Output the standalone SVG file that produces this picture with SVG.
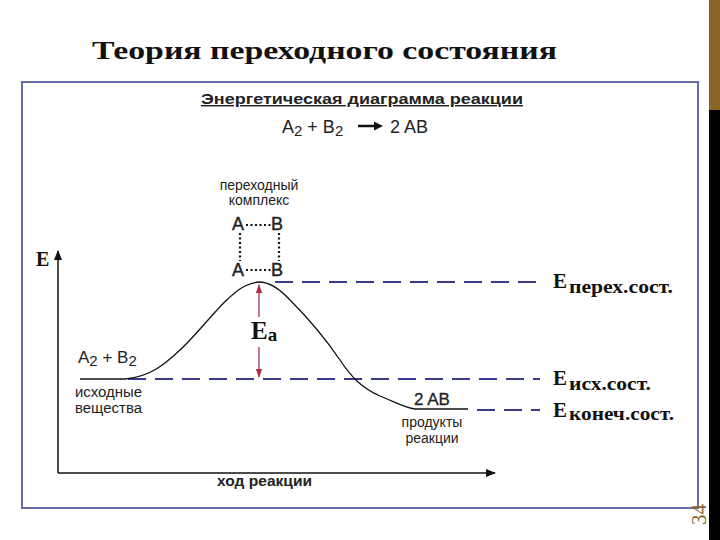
<svg xmlns="http://www.w3.org/2000/svg" width="720" height="540" viewBox="0 0 720 540">
<defs>
<style>
.sans{font-family:"Liberation Sans",Arial,sans-serif;fill:#222}
.serif{font-family:"Liberation Serif","Times New Roman",serif;fill:#111}
.dash{stroke:#3a3a8c;stroke-width:2;stroke-dasharray:18 9;fill:none}
.ax{stroke:#111;stroke-width:1.5;fill:none}
</style>
<marker id="ah" viewBox="0 0 10 10" refX="9" refY="5" markerWidth="7" markerHeight="7" orient="auto-start-reverse"><path d="M0 1 L10 5 L0 9 Z" fill="#111"/></marker>
<marker id="rh" viewBox="0 0 10 10" refX="9" refY="5" markerWidth="7" markerHeight="7" orient="auto-start-reverse"><path d="M0 1.5 L10 5 L0 8.5 Z" fill="#b0304a"/></marker>
</defs>
<rect width="720" height="540" fill="#fff"/>
<rect x="709" y="0" width="11" height="110" fill="#8b6326"/>
<rect x="709" y="110" width="11" height="430" fill="#000"/>
<text class="serif" x="92" y="59" font-size="26" font-weight="bold" textLength="465" lengthAdjust="spacingAndGlyphs">Теория переходного состояния</text>
<rect x="22" y="82" width="676" height="426" fill="none" stroke="#6a6aad" stroke-width="2"/>
<text transform="translate(706 525) rotate(-90)" font-family="Liberation Serif, serif" font-size="21" fill="#8b6326">34</text>

<g id="header">
<text class="sans" x="362" y="104" font-size="14.5" font-weight="bold" text-anchor="middle" textLength="322" lengthAdjust="spacingAndGlyphs" text-decoration="underline">Энергетическая диаграмма реакции</text>
<text class="sans" x="282" y="133" font-size="18">A<tspan font-size="15" dy="3">2</tspan><tspan dy="-3"> + B</tspan><tspan font-size="15" dy="3">2</tspan></text>
<path d="M358 126 L376 126" stroke="#111" stroke-width="2.5"/>
<path d="M374 121.5 L383 126 L374 130.5 Z" fill="#111"/>
<text class="sans" x="390" y="133" font-size="18">2 AB</text>
</g>

<g id="axes">
<path class="ax" d="M58 473 L58 251" marker-end="url(#ah)"/>
<path class="ax" d="M58 473 L495 473" marker-end="url(#ah)"/>
<text class="serif" x="36" y="266" font-size="20" font-weight="bold">E</text>
<text class="sans" x="217" y="486" font-size="14" font-weight="bold" textLength="95" lengthAdjust="spacingAndGlyphs">ход реакции</text>
</g>

<g id="connectors">
<path class="dash" d="M275 282 L540 282"/>
<path class="dash" d="M128 379 L540 379"/>
<path class="dash" d="M477 410 L540 410"/>
<path d="M80 379 L125 379 C150 377 165 364 180 350 C200 332 225 296 245 286 C252 283 256 282 259 282 C268 282 278 287 290 300 C305 315 325 338 340 360 C352 378 362 388 380 396 C395 402 405 408 415 409 L468 409" fill="none" stroke="#111" stroke-width="1.3"/>
<path d="M259 317 L259 285" stroke="#b0304a" stroke-width="1.3" marker-end="url(#rh)"/>
<path d="M259 347 L259 377" stroke="#b0304a" stroke-width="1.3" marker-end="url(#rh)"/>
</g>

<g id="complex">
<text class="sans" x="259" y="190" font-size="14" text-anchor="middle">переходный</text>
<text class="sans" x="259" y="205" font-size="14" text-anchor="middle">комплекс</text>
<text class="sans" x="232" y="230" font-size="18" stroke="#222" stroke-width="0.4">A</text>
<text class="sans" x="271" y="230" font-size="18" stroke="#222" stroke-width="0.4">B</text>
<text class="sans" x="232" y="276" font-size="18" stroke="#222" stroke-width="0.4">A</text>
<text class="sans" x="271" y="276" font-size="18" stroke="#222" stroke-width="0.4">B</text>
<g stroke="#111" stroke-width="2.2" stroke-dasharray="2 2.5" fill="none">
<path d="M246 225 L271 225"/>
<path d="M246 270 L271 270"/>
<path d="M240 233 L240 261"/>
<path d="M279 233 L279 261"/>
</g>
</g>

<g id="ea">
<text class="serif" x="251" y="339" font-size="25" font-weight="bold">E<tspan font-size="19" dy="2">a</tspan></text>
</g>

<g id="reactants">
<text class="sans" x="78" y="363" font-size="17">A<tspan font-size="15" dy="3">2</tspan><tspan dy="-3"> + B</tspan><tspan font-size="15" dy="3">2</tspan></text>
<text class="sans" x="75" y="397" font-size="14" fill="#333" textLength="67" lengthAdjust="spacingAndGlyphs">исходные</text>
<text class="sans" x="75" y="413" font-size="14" fill="#333" textLength="67" lengthAdjust="spacingAndGlyphs">вещества</text>
</g>

<g id="products">
<text class="sans" x="432" y="405" font-size="17" text-anchor="middle" stroke="#222" stroke-width="0.3">2 AB</text>
<text class="sans" x="432" y="427" font-size="14" text-anchor="middle" fill="#333">продукты</text>
<text class="sans" x="432" y="443" font-size="14" text-anchor="middle" fill="#333">реакции</text>
</g>

<g id="levels">
<text class="serif" x="553" y="288" font-size="21" font-weight="bold">E</text>
<text class="serif" x="569" y="293" font-size="18" font-weight="bold" textLength="104" lengthAdjust="spacingAndGlyphs">перех.сост.</text>
<text class="serif" x="553" y="385" font-size="21" font-weight="bold">E</text>
<text class="serif" x="569" y="390" font-size="18" font-weight="bold" textLength="82" lengthAdjust="spacingAndGlyphs">исх.сост.</text>
<text class="serif" x="553" y="417" font-size="21" font-weight="bold">E</text>
<text class="serif" x="569" y="420" font-size="18" font-weight="bold" textLength="105" lengthAdjust="spacingAndGlyphs">конеч.сост.</text>
</g>
</svg>
